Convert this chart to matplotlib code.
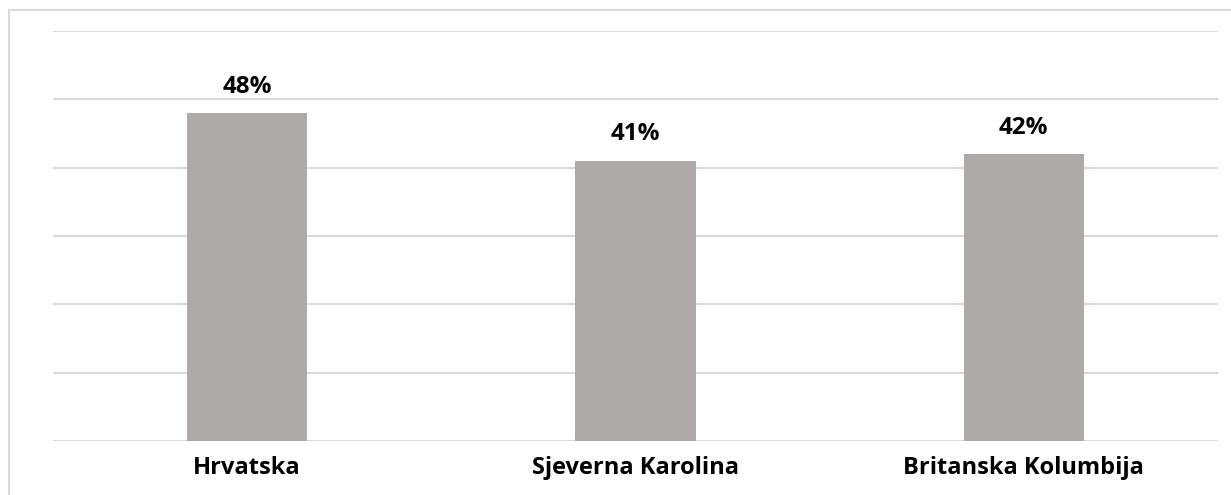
import matplotlib.pyplot as plt
from matplotlib.patches import Rectangle

categories = ['Hrvatska', 'Sjeverna Karolina', 'Britanska Kolumbija']
values = [48, 41, 42]
labels = ['48%', '41%', '42%']

plt.rcParams['font.family'] = ['Open Sans', 'DejaVu Sans']

fig = plt.figure(figsize=(12.31, 4.95), dpi=100)
ax = fig.add_axes([53/1231, 54/495, 1165/1231, 410/495])

# outer chart border, cut off at right and bottom like the original
fig.patches.append(Rectangle((9/1231, -0.1), 1.2, (495-10)/495 + 0.1,
                             transform=fig.transFigure, fill=False,
                             edgecolor='#d9d9d9', linewidth=1.5))

x = range(len(categories))
ax.bar(x, values, width=0.31, color='#aeaaaa', zorder=3)
for i, v in enumerate(values):
    ax.text(i, v + 2.1, labels[i], ha='center', va='bottom',
            fontsize=17.5, fontweight='bold', color='black')

ax.set_xlim(-0.5, 2.5)
ax.set_ylim(0, 60)
ax.set_yticks(range(0, 61, 10))
ax.set_yticklabels([])
ax.yaxis.grid(True, color='#d9d9d9', linewidth=1.5, zorder=0)
ax.tick_params(axis='y', length=0)
ax.set_xticks(list(x))
ax.set_xticklabels(categories, fontsize=17, fontweight='bold')
ax.tick_params(axis='x', length=0, pad=11)
for s in ax.spines.values():
    s.set_visible(False)

fig.savefig('out.png', dpi=100)
